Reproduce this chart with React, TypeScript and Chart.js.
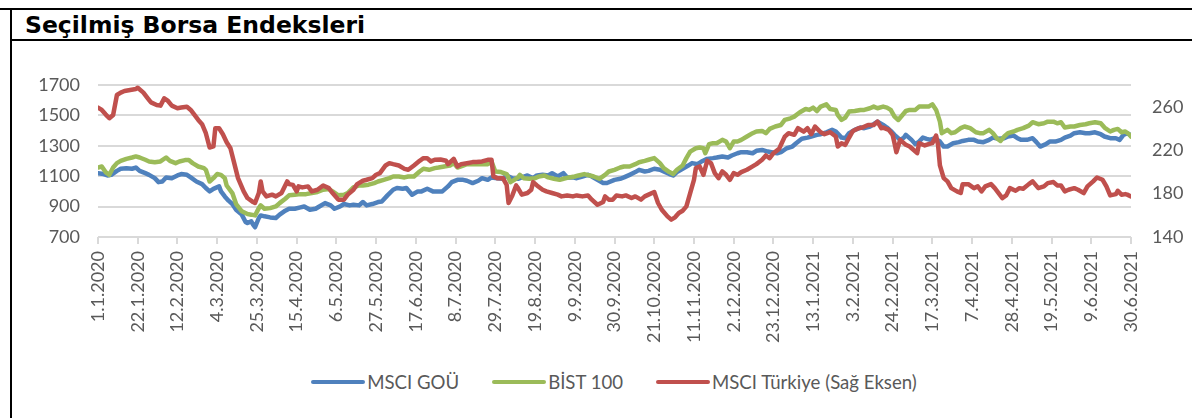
import React, { useEffect, useRef } from "react";
import { Chart, registerables } from "chart.js";

Chart.register(...registerables);

const chartTitle = "Seçilmiş Borsa Endeksleri";
const seriesNames = ["MSCI GOÜ", "BİST 100", "MSCI Türkiye (Sağ Eksen)"];
const seriesColors = ["#4f81bd", "#9bbb59", "#c0504d"];

// x values are calendar days counted from 1.1.2020
const dayMax = 546; // 30.6.2021
const dayStep = 21;
const leftMin = 700;
const leftMax = 1700;
const leftStep = 200;
const rightMin = 140;
const rightMax = 280;
const rightStep = 20;

const gouDays = [
  0, 3, 5, 7, 10, 12, 15, 18, 20, 22, 25, 27, 30, 32, 34, 36, 39, 42, 44, 47, 49, 52, 55, 57, 59, 61, 64, 65, 67, 69,
  71, 73, 76, 78, 79, 81, 82, 83, 85, 86, 88, 91, 94, 96, 99, 101, 104, 107, 109, 112, 115, 117, 120, 123, 125, 128, 130, 133,
  135, 138, 140, 142, 145, 148, 150, 153, 156, 158, 161, 163, 166, 169, 171, 174, 177, 179, 182, 185, 187, 190, 193, 195,
  198, 201, 203, 206, 208, 211, 214, 216, 219, 222, 224, 227, 230, 232, 235, 238, 240, 243, 246, 248, 251, 253, 256, 259,
  261, 264, 267, 269,
  273, 276, 278, 281, 284, 286, 289, 291, 294, 297, 299, 302, 304, 306, 309, 312, 314, 317, 319, 322, 325, 327, 330, 333,
  335, 338, 340, 343, 346, 348, 351, 354, 356, 359, 361, 364, 367, 369, 372, 375, 377, 380, 382, 385, 388, 390, 393, 395,
  397, 400, 403, 405, 408,
  410, 412, 415, 417, 419, 421, 424, 426, 427, 430, 432, 434, 436, 438, 440, 442, 445, 447, 449, 452, 455, 457, 460, 463,
  465, 468, 471, 473, 476, 479, 481, 484, 486, 488, 491, 494, 496, 498, 501, 503, 506, 509, 511, 514, 516, 519, 522, 524,
  527, 530, 532, 535, 538, 540, 542, 544, 545, 546,
];
const gouValues = [
  1120, 1114, 1105, 1109, 1135, 1149, 1153, 1149, 1157, 1135, 1120, 1109, 1087, 1061, 1065, 1092, 1087, 1105, 1114, 1109,
  1092, 1065, 1048, 1022, 1000, 1017, 1033, 1000, 967, 939, 917, 879, 847, 799, 792, 803, 781, 764, 825, 842, 836, 829,
  825, 847, 873, 886, 886, 895, 901, 879, 886, 901, 923, 908, 886, 901, 917, 908,
  912, 908, 930, 908, 917, 930, 934, 974, 1011, 1022, 1017, 1022, 978, 1000, 1000, 1017, 1000, 1000, 1000, 1033, 1061,
  1076, 1076, 1070, 1055, 1070, 1087, 1076, 1092, 1087, 1083, 1105, 1087, 1083, 1092, 1105, 1087, 1105, 1109, 1105, 1120,
  1098, 1120, 1092, 1092, 1087, 1098, 1109, 1098, 1076, 1055, 1055,
  1076, 1083, 1092, 1109, 1127, 1142, 1131, 1135, 1149, 1142, 1131, 1114, 1105, 1127, 1149, 1170, 1186, 1179, 1197, 1214,
  1219, 1223, 1230, 1223, 1236, 1251, 1258, 1258, 1251, 1267, 1273, 1262, 1258, 1251, 1258, 1284, 1295, 1317, 1346, 1354,
  1361, 1372, 1376, 1389, 1405, 1394, 1354, 1350, 1383, 1405, 1420, 1416, 1427,
  1442, 1459, 1437, 1420, 1398, 1372, 1339, 1354, 1372, 1339, 1311, 1328, 1354, 1346, 1339, 1350, 1328, 1295, 1295, 1317,
  1324, 1332, 1339, 1339, 1328, 1324, 1339, 1354, 1346, 1350, 1361, 1367, 1350, 1339, 1339, 1350, 1324, 1295, 1311, 1328,
  1328, 1339, 1354, 1367, 1383, 1389, 1383, 1383, 1389, 1376, 1361, 1350, 1350, 1339, 1372, 1383, 1376, 1367,
];

const bistDays = [
  0, 2, 4, 6, 8, 10, 12, 15, 18, 20, 22, 25, 27, 30, 33, 36, 38, 41, 43, 46, 48, 50, 53, 56, 57, 59, 61, 63, 65, 67, 68,
  71, 73, 76, 79, 81, 83, 85, 86, 88, 91, 94, 96, 99, 101, 104, 107, 110, 113, 116, 119, 122, 124, 127, 130, 132,
  135, 138, 140, 143, 146, 148, 151, 154, 156, 159, 162, 164, 167, 170, 172, 175, 178, 180, 183, 186, 188, 190, 193, 195,
  198, 201, 203, 206, 208, 210, 213, 216, 218, 220, 222, 223, 225, 228, 231, 233, 236, 238, 241, 244, 246, 249, 252, 254,
  257, 260, 262, 265, 268, 270,
  273, 276, 278, 281, 284, 286, 289, 291, 294, 297, 299, 302, 304, 306, 309, 311, 313, 316, 318, 320, 321, 323, 325, 327,
  330, 332, 334, 336, 338, 340, 343, 346, 348, 351, 353, 355, 358, 361, 363, 366, 368, 371, 374, 376, 378, 380, 382, 385,
  387, 390, 391, 393, 395, 397, 400, 403, 405, 408,
  410, 412, 415, 417, 419, 421, 423, 425, 427, 429, 432, 434, 436, 439, 441, 443, 445, 446, 449, 451, 453, 456, 458, 461,
  464, 466, 468, 471, 473, 475, 477, 479, 481, 484, 486, 489, 492, 494, 497, 500, 502, 505, 507, 509, 511, 514, 516, 519,
  522, 524, 527, 530, 532, 535, 537, 539, 541, 543, 545, 546,
];
const bistValues = [
  1157, 1164, 1127, 1109, 1157, 1186, 1201, 1214, 1223, 1230, 1223, 1208, 1197, 1192, 1197, 1223, 1201, 1186, 1197, 1206,
  1206, 1186, 1164, 1153, 1142, 1065, 1087, 1114, 1109, 1087, 1039, 989, 917, 869, 851, 847, 842, 890, 908, 886, 890, 901,
  923, 952, 974, 978, 982, 982, 989, 996, 1011, 1015, 1000, 974, 978, 989,
  1026, 1039, 1039, 1044, 1055, 1065, 1076, 1087, 1098, 1098, 1092, 1098, 1098, 1131, 1149, 1142, 1153, 1157, 1164, 1170,
  1186, 1157, 1170, 1179, 1179, 1179, 1179, 1179, 1197, 1131, 1127, 1114, 1061, 1076, 1092, 1109, 1087, 1083, 1087, 1098,
  1105, 1092, 1083, 1076, 1083, 1092, 1098, 1105, 1114, 1105, 1098, 1083, 1109, 1131,
  1142, 1157, 1164, 1164, 1179, 1192, 1201, 1208, 1219, 1186, 1153, 1127, 1114, 1142, 1170, 1219, 1262, 1284, 1289, 1284,
  1251, 1311, 1317, 1317, 1339, 1328, 1284, 1328, 1328, 1339, 1361, 1383, 1394, 1398, 1383, 1411, 1427, 1437, 1470, 1481,
  1492, 1521, 1542, 1536, 1551, 1529, 1558, 1573, 1542, 1536, 1503, 1470, 1486, 1525, 1529, 1536, 1536, 1547,
  1558, 1547, 1558, 1551, 1536, 1492, 1470, 1499, 1529, 1536, 1536, 1558, 1558, 1558, 1573, 1536, 1459, 1383, 1405, 1383,
  1389, 1416, 1427, 1416, 1389, 1383, 1383, 1405, 1383, 1350, 1332, 1361, 1383, 1394, 1405, 1416, 1433, 1455, 1442, 1448,
  1459, 1459, 1448, 1455, 1420, 1427, 1427, 1437, 1442, 1448, 1455, 1448, 1420, 1394, 1405, 1411, 1389, 1394, 1376, 1361,
];

const trDays = [
  0, 2, 4, 6, 8, 10, 12, 14, 17, 20, 21, 24, 26, 28, 31, 33, 35, 37, 39, 42, 44, 47, 49, 51, 53, 55, 57, 59, 61, 62, 64,
  66, 68, 70, 72, 74, 77, 79, 82, 83, 85, 86, 87, 89, 92, 94, 97, 100, 101, 103, 105, 106, 108, 111, 113, 116, 119, 122,
  124, 127, 130, 132,
  135, 137, 140, 142, 145, 147, 149, 152, 154, 156, 159, 162, 164, 167, 170, 172, 174, 176, 178, 181, 184, 185, 188, 190,
  192, 195, 198, 200, 203, 206, 208, 209, 211, 214, 216, 217, 219, 221, 222, 224, 227, 229, 230, 232, 235, 237, 240, 243,
  245, 248, 251, 253, 256, 259, 261, 264, 267, 268, 270,
  272, 274, 277, 279, 282, 284, 287, 289, 291, 294, 296, 298, 301, 303, 305, 307, 309, 311, 313, 315, 316, 318, 320, 322,
  324, 326, 328, 330, 332, 334, 336, 338, 340, 343, 346, 348, 351, 353, 355, 357, 360, 361, 363, 365, 368, 370, 373, 375,
  377, 379, 382, 384, 387, 390, 391, 393, 395, 397, 399, 402, 404, 407,
  410, 412, 414, 415, 418, 420, 421, 422, 424, 427, 429, 431, 433, 434, 437, 439, 441, 443, 444, 445, 447, 449, 451, 454,
  456, 457, 460, 463, 465, 467, 469, 472, 474, 476, 478, 480, 482, 485, 487, 489, 492, 494, 497, 500, 502, 505, 507, 509,
  511, 513, 516, 518, 521, 523, 526, 528, 531, 533, 535, 538, 539, 541, 543, 544, 546,
];
const trValues = [
  259.2, 257, 253, 249.4, 252.4, 270.8, 273, 274.5, 275.4, 276.3, 277.5, 273, 268.4, 264, 261.6, 261, 267.7, 265.3, 261,
  258.6, 259.2, 260, 257, 252.4, 247.8, 243.9, 235.6, 222.4, 223.4, 240.2, 240.2, 234.7, 227.3, 221.8, 208, 194.2, 182,
  175.9, 172.2, 171.3, 180.5, 191.2, 182, 177.4, 179, 177.4, 180.5, 191.2, 188.7, 188, 182, 186.6, 185.7, 186.6, 182,
  183.5, 187.5, 185, 180.5, 174.4, 174.4, 179,
  183.5, 188.7, 191.8, 192.7, 194.2, 197.3, 198.8, 205.9, 208, 207.1, 205.9, 202.8, 201.9, 205.9, 210.2, 212.6, 212.6,
  209.6, 211.1, 211.4, 210.2, 207.1, 212, 205, 207.1, 208, 209, 209, 209.6, 211.1, 211.1, 195.8, 194.2, 194.2, 188, 171.3,
  178.3, 187.5, 185, 179, 180.5, 183.5, 190.6, 187.5, 183.5, 182, 180.5, 179, 177.4, 178.3, 177.4, 178.3, 177.4, 178.3,
  174.4, 169.7, 172.2, 177.4, 174.4,
  174.4, 178.3, 177.4, 178.3, 175.9, 177.4, 174.4, 177.4, 179, 181.4, 171.3, 165.1, 159, 156, 158.1, 162.1, 164.2, 168.2,
  180.5, 192.7, 203.4, 205, 197.3, 210.2, 208, 198.8, 194.2, 200.4, 197.3, 192.7, 198.8, 197.3, 199.7, 201.9, 205, 207.1,
  211.1, 215.1, 212.6, 217.2, 221.2, 224.9, 232.5, 235.6, 234.1, 240.2, 237.1, 240.2, 234.7, 241.7, 236.5, 234.7, 236.5,
  232.5, 223.4, 226.4, 224.9, 231.6, 237.7, 240.2, 240.8, 243.2,
  243.2, 246.3, 240.2, 240.8, 238.6, 234.1, 226.4, 218.1, 229.5, 224.9, 223.3, 220.3, 217.2, 226.4, 224.3, 225.5, 226.4,
  233.4, 224.9, 205.9, 194.2, 191.2, 185, 182, 180.5, 188.7, 188.7, 185, 186.6, 182, 186.6, 188.7, 185, 180.5, 175.9,
  178.3, 185, 182.6, 185, 184.4, 188.7, 191.2, 185, 186.6, 189.6, 190.6, 187.5, 187.5, 182, 183.5, 185, 183.5, 180.5,
  186.6, 191.2, 194.8, 192.7, 186.6, 178.3, 179.5, 182.6, 179, 179.5, 179, 177.4,
];

const TEXT_COLOR = "#595959";
const GRID_COLOR = "#d9d9d9";
const AXIS_FONT = { family: "Lato", size: 18 };

function dayLabel(day: number): string {
  const d = new Date(Date.UTC(2020, 0, 1 + Math.round(day)));
  return `${d.getUTCDate()}.${d.getUTCMonth() + 1}.${d.getUTCFullYear()}`;
}

function points(days: number[], values: number[]) {
  return days.map((d, i) => ({ x: d, y: values[i] }));
}

export default function App() {
  const canvasRef = useRef<HTMLCanvasElement>(null);

  useEffect(() => {
    const canvas = canvasRef.current;
    if (!canvas) return;
    const chart = new Chart(canvas, {
      type: "line",
      data: {
        datasets: [
          { label: seriesNames[0], data: points(gouDays, gouValues), borderColor: seriesColors[0], yAxisID: "y", order: 2 },
          { label: seriesNames[1], data: points(bistDays, bistValues), borderColor: seriesColors[1], yAxisID: "y", order: 1 },
          { label: seriesNames[2], data: points(trDays, trValues), borderColor: seriesColors[2], yAxisID: "y1", order: 0 },
        ],
      },
      options: {
        animation: false,
        responsive: false,
        devicePixelRatio: 1,
        events: [],
        layout: { padding: { top: 41, left: 0, right: 0, bottom: 0 } },
        elements: {
          line: { borderWidth: 4.5, tension: 0, borderJoinStyle: "round", borderCapStyle: "round", fill: false },
          point: { radius: 0, hoverRadius: 0 },
        },
        plugins: { legend: { display: false }, tooltip: { enabled: false } },
        scales: {
          x: {
            type: "linear",
            min: 0,
            max: dayMax,
            afterFit: (s: any) => { s.height = 107; },
            grid: { drawOnChartArea: false, drawTicks: true, tickLength: 7, color: GRID_COLOR, lineWidth: 2 },
            border: { display: false },
            ticks: {
              stepSize: dayStep,
              autoSkip: false,
              maxRotation: 90,
              minRotation: 90,
              padding: 7,
              color: TEXT_COLOR,
              font: AXIS_FONT,
              callback: (v: any) => dayLabel(Number(v)),
            },
          },
          y: {
            position: "left",
            min: leftMin,
            max: leftMax,
            afterFit: (s: any) => { s.width = 86; },
            grid: { color: GRID_COLOR, lineWidth: 2, drawTicks: false },
            border: { display: false },
            ticks: { stepSize: leftStep, padding: 18, color: TEXT_COLOR, font: AXIS_FONT, callback: (v: any) => String(v) },
          },
          y1: {
            position: "right",
            min: rightMin,
            max: rightMax,
            afterFit: (s: any) => { s.width = 61; },
            grid: { drawOnChartArea: false, drawTicks: false },
            border: { display: false },
            ticks: { stepSize: rightStep, padding: 21, color: TEXT_COLOR, font: AXIS_FONT, callback: (v: any) => String(v) },
          },
        },
      },
    });
    return () => chart.destroy();
  }, []);

  return (
    <div style={{ position: "absolute", left: 0, top: 0, width: 1192, height: 418, background: "#fff", overflow: "hidden" }}>
      <div style={{ position: "absolute", left: 0, top: 8, width: 1192, height: 2, background: "#000" }} />
      <div style={{ position: "absolute", left: 10, top: 8, width: 2, height: 410, background: "#000" }} />
      <div style={{ position: "absolute", left: 10, top: 39, width: 1182, height: 2, background: "#000" }} />
      <div
        style={{
          position: "absolute",
          left: 25,
          top: 14,
          fontFamily: "'DejaVu Sans', sans-serif",
          fontWeight: "bold",
          fontSize: 23.5,
          lineHeight: "23px",
          color: "#000",
          whiteSpace: "nowrap",
        }}
      >
        {chartTitle}
      </div>
      <canvas
        ref={canvasRef}
        width={1180}
        height={300}
        style={{ position: "absolute", left: 12, top: 44, width: 1180, height: 300 }}
      />
      <div
        style={{
          position: "absolute",
          left: 36,
          top: 372,
          width: 1156,
          height: 20,
          display: "flex",
          justifyContent: "center",
          alignItems: "center",
          fontFamily: "Lato, sans-serif",
          fontSize: 18.6,
          color: TEXT_COLOR,
          whiteSpace: "nowrap",
        }}
      >
        {seriesNames.map((name, i) => (
          <div key={name} style={{ display: "flex", alignItems: "center", marginLeft: i === 0 ? 0 : 33 }}>
            <span
              style={{ display: "inline-block", width: 54, height: 4, borderRadius: 2, background: seriesColors[i], marginRight: 2 }}
            />
            <span style={{ lineHeight: "20px" }}>{name}</span>
          </div>
        ))}
      </div>
    </div>
  );
}
